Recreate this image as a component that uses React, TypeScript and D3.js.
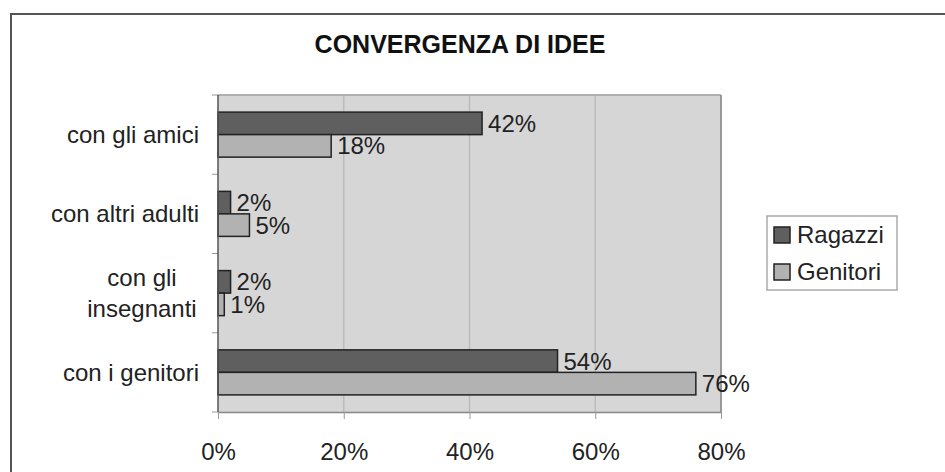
import * as d3 from "d3";
import { useEffect, useRef } from "react";

const width = 945,
  height = 472,
  marginTop = 95,
  marginRight = 224,
  marginBottom = 60,
  marginLeft = 218;

const categories = [
  "con gli amici",
  "con altri adulti",
  "con gli\ninsegnanti",
  "con i genitori",
];
const seriesNames = ["Ragazzi", "Genitori"];
const ragazzi = [42, 2, 2, 54];
const genitori = [18, 5, 1, 76];
const xTicks = [0, 20, 40, 60, 80];

const colors = ["#5f5f5f", "#b2b2b2"];
const font = "'Liberation Sans', Arial, sans-serif";

export default function App() {
  const ref = useRef<SVGSVGElement | null>(null);

  useEffect(() => {
    if (!ref.current) return;
    const svg = d3.select(ref.current);
    svg.selectAll("*").remove();

    const x = d3.scaleLinear([0, 80], [marginLeft, width - marginRight]);
    const y = d3
      .scaleBand<string>()
      .domain(categories)
      .range([marginTop, height - marginBottom]);
    const inner = d3
      .scaleBand<string>()
      .domain(seriesNames)
      .range([0, y.bandwidth()])
      .paddingOuter(0.76);

    // outer frame (runs off the right and bottom edges)
    svg
      .append("rect")
      .attr("x", 11)
      .attr("y", 14)
      .attr("width", 1000)
      .attr("height", 600)
      .attr("fill", "#fff")
      .attr("stroke", "#555")
      .attr("stroke-width", 2);

    svg
      .append("text")
      .attr("x", 460)
      .attr("y", 53)
      .attr("text-anchor", "middle")
      .attr("font-family", font)
      .attr("font-weight", "bold")
      .attr("font-size", 25)
      .attr("fill", "#111")
      .text("CONVERGENZA DI IDEE");

    // plot area
    const [x0, x1] = x.range();
    const [y0, y1] = y.range();
    svg
      .append("rect")
      .attr("x", x0)
      .attr("y", y0)
      .attr("width", x1 - x0)
      .attr("height", y1 - y0)
      .attr("fill", "#d6d6d6");

    svg
      .append("g")
      .selectAll("line")
      .data(xTicks.slice(1, -1))
      .join("line")
      .attr("x1", (d) => x(d))
      .attr("x2", (d) => x(d))
      .attr("y1", y0)
      .attr("y2", y1)
      .attr("stroke", "#bcbcbc")
      .attr("stroke-width", 1.5);

    svg
      .append("line")
      .attr("x1", x0)
      .attr("x2", x1)
      .attr("y1", y0)
      .attr("y2", y0)
      .attr("stroke", "#b0b0b0")
      .attr("stroke-width", 2);
    svg
      .append("line")
      .attr("x1", x1)
      .attr("x2", x1)
      .attr("y1", y0)
      .attr("y2", y1)
      .attr("stroke", "#999")
      .attr("stroke-width", 2);

    // bars
    const series = [ragazzi, genitori];
    series.forEach((vals, si) => {
      const g = svg.append("g");
      g.selectAll("rect")
        .data(vals)
        .join("rect")
        .attr("x", x0)
        .attr("y", (_, i) => y(categories[i])! + inner(seriesNames[si])!)
        .attr("width", (d) => x(d) - x0)
        .attr("height", inner.bandwidth())
        .attr("fill", colors[si])
        .attr("stroke", "#222")
        .attr("stroke-width", 1.5);
      g.selectAll("text")
        .data(vals)
        .join("text")
        .attr("x", (d) => x(d) + 6)
        .attr(
          "y",
          (_, i) =>
            y(categories[i])! + inner(seriesNames[si])! + inner.bandwidth() / 2 + 8.5
        )
        .attr("font-family", font)
        .attr("font-size", 24)
        .attr("fill", "#222")
        .text((d) => `${d}%`);
    });

    // x axis
    svg
      .append("g")
      .attr("transform", `translate(0,${y1})`)
      .call(
        d3
          .axisBottom(x)
          .tickValues(xTicks)
          .tickSize(7)
          .tickSizeOuter(0)
          .tickPadding(24)
          .tickFormat((d) => `${d}%`)
      )
      .call((g) => g.select(".domain").attr("stroke", "#888").attr("stroke-width", 1.5))
      .call((g) => g.selectAll(".tick line").attr("stroke", "#999"))
      .call((g) =>
        g
          .selectAll(".tick text")
          .attr("font-family", font)
          .attr("font-size", 24)
          .attr("fill", "#222")
      );

    // y axis
    const yAxis = svg.append("g");
    yAxis
      .selectAll("line.tick")
      .data(d3.range(categories.length + 1))
      .join("line")
      .attr("class", "tick")
      .attr("x1", x0 - 6)
      .attr("x2", x0)
      .attr("y1", (i) => y0 + i * y.step())
      .attr("y2", (i) => y0 + i * y.step())
      .attr("stroke", "#999");
    yAxis
      .append("line")
      .attr("x1", x0)
      .attr("x2", x0)
      .attr("y1", y0)
      .attr("y2", y1)
      .attr("stroke", "#555")
      .attr("stroke-width", 1.5);

    categories.forEach((c) => {
      const lines = c.split("\n");
      const cy = y(c)! + y.bandwidth() / 2;
      const t = svg
        .append("text")
        .attr("font-family", font)
        .attr("font-size", 24)
        .attr("fill", "#222")
        .attr("text-anchor", lines.length > 1 ? "middle" : "end");
      if (lines.length === 1) {
        t.attr("x", 199).attr("y", cy + 8.5).text(c);
      } else {
        lines.forEach((l, li) => {
          t.append("tspan")
            .attr("x", 142)
            .attr("y", cy + 8.5 + (li - (lines.length - 1) / 2) * 31)
            .text(l);
        });
      }
    });

    // legend
    const legend = svg.append("g").attr("transform", "translate(767,216)");
    legend
      .append("rect")
      .attr("width", 130)
      .attr("height", 74)
      .attr("fill", "#fff")
      .attr("stroke", "#aaa")
      .attr("stroke-width", 1.5);
    seriesNames.forEach((s, i) => {
      legend
        .append("rect")
        .attr("x", 7)
        .attr("y", 11 + i * 37)
        .attr("width", 16)
        .attr("height", 16)
        .attr("fill", colors[i])
        .attr("stroke", "#222")
        .attr("stroke-width", 1.5);
      legend
        .append("text")
        .attr("x", 30)
        .attr("y", 27 + i * 37)
        .attr("font-family", font)
        .attr("font-size", 24)
        .attr("fill", "#222")
        .text(s);
    });
  }, []);

  return (
    <svg
      ref={ref}
      width={width}
      height={height}
      viewBox={`0 0 ${width} ${height}`}
      style={{ position: "absolute", left: 0, top: 0, display: "block" }}
    />
  );
}
